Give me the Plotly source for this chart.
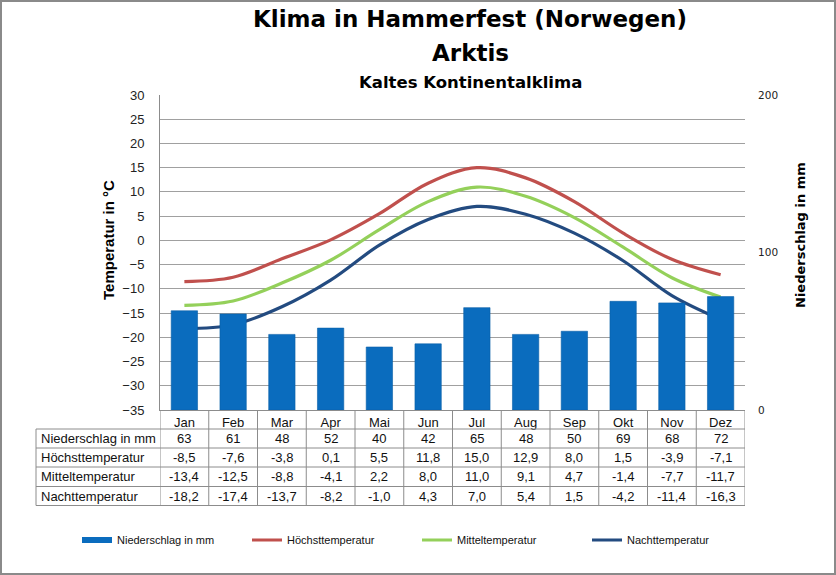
import plotly.graph_objects as go

months = ["Jan", "Feb", "Mar", "Apr", "Mai", "Jun", "Jul", "Aug", "Sep", "Okt", "Nov", "Dez"]
niederschlag = [63, 61, 48, 52, 40, 42, 65, 48, 50, 69, 68, 72]
hoechst = [-8.5, -7.6, -3.8, 0.1, 5.5, 11.8, 15.0, 12.9, 8.0, 1.5, -3.9, -7.1]
mittel = [-13.4, -12.5, -8.8, -4.1, 2.2, 8.0, 11.0, 9.1, 4.7, -1.4, -7.7, -11.7]
nacht = [-18.2, -17.4, -13.7, -8.2, -1.0, 4.3, 7.0, 5.4, 1.5, -4.2, -11.4, -16.3]
temp_ticks = list(range(-35, 31, 5))
precip_ticks = [0, 100, 200]

W, H = 836, 575
L, R, T, B = 160, 91, 95, 165
PW, PH = W - L - R, H - T - B

def px(x):
    return (x - L) / PW

def py(y):
    return (H - B - y) / PH

BAR = "#0A6CBE"
RED = "#C0504D"
GREEN = "#94D05A"
NAVY = "#234B80"
GRID = "#A0A0A0"
TBL = "#8C8C8C"

fig = go.Figure()
fig.add_trace(go.Bar(x=months, y=niederschlag, yaxis="y2", marker=dict(color=BAR, line=dict(color="#0A5FA8", width=0.6)),
                     width=0.54, showlegend=False, name="Niederschlag in mm"))
fig.add_trace(go.Scatter(x=[None], y=[None], mode="lines", line=dict(color=BAR, width=6), name="Niederschlag in mm"))
for vals, col, nm in [(hoechst, RED, "Höchsttemperatur"), (mittel, GREEN, "Mitteltemperatur"), (nacht, NAVY, "Nachttemperatur")]:
    fig.add_trace(go.Scatter(x=months, y=vals, mode="lines", line=dict(color=col, width=3.2, shape="spline", smoothing=1.0), name=nm))

shapes = []
row_edges = [429, 448, 467, 486.5, 505.5]
for ye in row_edges:
    shapes.append(dict(type="line", xref="paper", yref="paper", x0=px(36), x1=1, y0=py(ye), y1=py(ye), line=dict(color=TBL, width=1)))
for i in range(len(months) + 1):
    shapes.append(dict(type="line", xref="x", yref="paper", x0=i - 0.5, x1=i - 0.5, y0=py(505.5), y1=0, line=dict(color=TBL, width=1)))
shapes.append(dict(type="line", xref="paper", yref="paper", x0=px(36), x1=px(36), y0=py(505.5), y1=py(429), line=dict(color=TBL, width=1)))
shapes.append(dict(type="rect", xref="paper", yref="paper", x0=px(1), x1=px(835), y0=py(574), y1=py(1), line=dict(color="#8A8A8A", width=2)))

ann = []
rows = [
    ("Niederschlag in mm", [str(v) for v in niederschlag]),
    ("Höchsttemperatur", [f"{v:.1f}".replace(".", ",") for v in hoechst]),
    ("Mitteltemperatur", [f"{v:.1f}".replace(".", ",") for v in mittel]),
    ("Nachttemperatur", [f"{v:.1f}".replace(".", ",") for v in nacht]),
]
cell_font = dict(family="Liberation Sans, Arial", size=13, color="#111")
for r, (label, vals) in enumerate(rows):
    yc = py((row_edges[r] + row_edges[r + 1]) / 2)
    ann.append(dict(text=label, xref="paper", yref="paper", x=px(39), y=yc, xanchor="left", yanchor="middle", showarrow=False, font=cell_font))
    for m, v in zip(months, vals):
        ann.append(dict(text=v, xref="x", yref="paper", x=m, y=yc, xanchor="center", yanchor="middle", showarrow=False, font=cell_font))

title_font = dict(family="DejaVu Sans", size=23, color="#000")
ann.append(dict(text="<b>Klima in Hammerfest (Norwegen)</b>", xref="paper", yref="paper", x=px(470), y=py(19), xanchor="center", yanchor="middle", showarrow=False, font=title_font))
ann.append(dict(text="<b>Arktis</b>", xref="paper", yref="paper", x=px(470), y=py(53), xanchor="center", yanchor="middle", showarrow=False, font=title_font))
ann.append(dict(text="<b>Kaltes Kontinentalklima</b>", xref="paper", yref="paper", x=px(470), y=py(83), xanchor="center", yanchor="middle", showarrow=False, font=dict(family="DejaVu Sans", size=16.5, color="#000")))
ann.append(dict(text="<b>Temperatur in °C</b>", xref="paper", yref="paper", x=px(108), y=py(240), xanchor="center", yanchor="middle", textangle=-90, showarrow=False, font=dict(family="Liberation Sans, Arial", size=15, color="#000")))
ann.append(dict(text="<b>Niederschlag in mm</b>", xref="paper", yref="paper", x=px(800), y=py(235), xanchor="center", yanchor="middle", textangle=-90, showarrow=False, font=dict(family="DejaVu Sans", size=13, color="#000")))

fig.update_layout(
    width=W, height=H, margin=dict(l=L, r=R, t=T, b=B, autoexpand=False),
    paper_bgcolor="white", plot_bgcolor="white", hovermode=False,
    shapes=shapes, annotations=ann,
    xaxis=dict(type="category", showgrid=False, showline=True, linecolor=TBL, linewidth=1,
               ticks="", tickfont=dict(family="Liberation Sans, Arial", size=13, color="#111"), range=[-0.5, 11.5]),
    yaxis=dict(range=[-35, 30], tickvals=temp_ticks, showgrid=True, gridcolor=GRID, gridwidth=1,
               showline=True, linecolor=TBL, linewidth=1, zeroline=False,
               ticks="outside", ticklen=12, tickcolor="rgba(0,0,0,0)",
               tickfont=dict(family="Liberation Sans, Arial", size=13, color="#222")),
    yaxis2=dict(range=[0, 200], tickvals=precip_ticks, overlaying="y", side="right", showgrid=False, showline=False,
                zeroline=False, ticks="outside", ticklen=10, tickcolor="rgba(0,0,0,0)",
                tickfont=dict(family="DejaVu Sans", size=10.5, color="#222")),
    legend=dict(orientation="h", x=px(77), xanchor="left", y=py(540), yanchor="middle",
                font=dict(family="Liberation Sans, Arial", size=11, color="#111"),
                entrywidth=125, entrywidthmode="pixels", bgcolor="rgba(0,0,0,0)"),
)

fig.write_html("out.html", config={"displayModeBar": False, "staticPlot": True},
               post_script="document.body.style.margin='0';document.body.style.overflow='hidden';")
